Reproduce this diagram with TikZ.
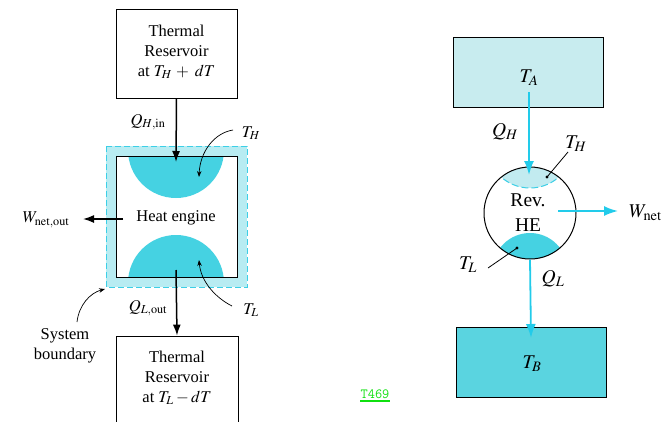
\documentclass[tikz,border=0pt]{standalone}
\usepackage{mathptmx}
\usepackage{fontspec}
\setmainfont{Liberation Serif}
\usetikzlibrary{arrows.meta}
\definecolor{bandcyan}{HTML}{B8ECF2}
\definecolor{diskcyan}{HTML}{45D2E2}
\definecolor{lightbox}{HTML}{C8ECEF}
\definecolor{lightcap}{HTML}{C2EBF0}
\definecolor{darkbox}{HTML}{5AD4E0}
\definecolor{arrowcyan}{HTML}{22CBEA}
\definecolor{dashcyan}{HTML}{3CCFE6}
\definecolor{linkgreen}{HTML}{10E010}
\tikzset{
  lefttext/.style={font=\fontsize{16.5}{20}\selectfont, align=center, inner sep=0pt},
  righttext/.style={font=\fontsize{19.5}{25}\selectfont, align=center, inner sep=0pt},
  resbox/.style={draw, line width=0.9pt, inner sep=0pt},
  blackarrow/.style={line width=1.5pt, -{Latex[length=11pt,width=8pt]}},
  cyanarrow/.style={arrowcyan, line width=1.8pt, -{Latex[length=14pt,width=10pt]}},
  thinarrow/.style={line width=0.7pt, -{Stealth[length=6pt,width=4.5pt]}},
  pointer/.style={line width=0.8pt},
}
\begin{document}
\begin{tikzpicture}[x=1pt,y=-1pt]
\useasboundingbox (0,0) rectangle (666,421);
\clip (0,0) rectangle (666,421);
% ---------------- left diagram ----------------
\node[resbox, minimum width=121pt, minimum height=89pt] (hot) at (176.5,53.5) {};
\node[lefttext] (hottxt) at (176.5,52) {Thermal\\Reservoir\\at $T_H\,+\,\,dT$};
% system boundary band
\fill[bandcyan] (106,146) rectangle (247,287);
\draw[dashcyan, line width=0.8pt, dash pattern=on 6pt off 3pt] (106,146) rectangle (247,287);
\fill[white] (116,156) rectangle (237,277);
\begin{scope}
  \clip (116,156) rectangle (237,277);
  \fill[diskcyan] (176,150) circle (48);
  \fill[diskcyan] (176,283) circle (48);
\end{scope}
\node[resbox, minimum width=121pt, minimum height=121pt] (eng) at (176.5,216.5) {};
\node[lefttext] (engtxt) at (176,218) {Heat engine};
% bottom reservoir
\node[resbox, minimum width=122pt, minimum height=100pt] (cold) at (177,386) {};
\node[lefttext] (coldtxt) at (177,378) {Thermal\\Reservoir\\at $T_L - dT$};
% heat and work arrows
\coordinate (qhtip) at (176,162);
\draw[blackarrow] (hot.south) -- (qhtip);
\node[lefttext] (qhin) at (148,122) {$Q_{H,\mathrm{in}}$};
\coordinate (qlstart) at (176,270);
\draw[blackarrow] (qlstart) -- (cold.north);
\node[lefttext] (qlout) at (148,308) {$Q_{L,\mathrm{out}}$};
\coordinate (wstart) at (123,219);
\coordinate (wtip) at (83,219);
\draw[blackarrow] (wstart) -- (wtip);
\node[lefttext] (wout) at (46,220) {$W_{\mathrm{net,out}}$};
% pointers
\node[lefttext] (thl) at (251,133) {$T_H$};
\coordinate (thdisk) at (199,177);
\draw[thinarrow] (233,130) .. controls (214,133) and (200,152) .. (thdisk);
\node[lefttext] (tll) at (251,310) {$T_L$};
\coordinate (tldisk) at (199,260);
\draw[thinarrow] (232,306) .. controls (216,298) and (201,282) .. (tldisk);
\node[lefttext] (sysb) at (65,346) {System\\boundary};
\coordinate (bcorner) at (105,289);
\draw[thinarrow] (77,322) .. controls (79,305) and (90,293) .. (bcorner);
% ---------------- right diagram ----------------
\node[resbox, fill=lightbox, minimum width=150pt, minimum height=70pt] (A) at (528,72) {};
\node[righttext] (TA) at (529,78) {$T_A$};
\node[resbox, fill=darkbox, minimum width=150pt, minimum height=70pt] (B) at (531,362) {};
\node[righttext] (TB) at (532,364) {$T_B$};
\begin{scope}
  \clip (530,213) circle (46);
  \fill[lightcap] (530,144.5) circle (43.5);
  \draw[dashcyan, line width=1pt, dash pattern=on 7pt off 3pt] (530,144.5) circle (43.5);
  \fill[diskcyan] (530,270.5) circle (37.5);
\end{scope}
\node[draw, circle, line width=1pt, minimum size=92pt, inner sep=0pt] (HE) at (530,213) {};
\node[righttext] (HEtxt) at (528,213) {Rev.\\HE};
\coordinate (qhstart) at (529,92);
\coordinate (qhend) at (529,175);
\draw[cyanarrow] (qhstart) -- (qhend);
\node[righttext] (QH) at (505,132) {$Q_H$};
\coordinate (qlend) at (531,338);
\draw[cyanarrow] (HE.south) -- (qlend);
\node[righttext] (QL) at (553,279) {$Q_L$};
\coordinate (wnstart) at (558,211);
\coordinate (wnend) at (618,211);
\draw[cyanarrow] (wnstart) -- (wnend);
\node[righttext, anchor=west] (Wn) at (629,213) {$W_{\mathrm{net}}$};
% right pointers
\node[righttext] (TH2) at (576,144) {$T_H$};
\coordinate (thdot) at (547,177);
\fill (thdot) circle (1.6);
\draw[pointer] (568,152) -- (thdot);
\node[righttext] (TL2) at (468,265) {$T_L$};
\coordinate (tldot) at (517,248);
\fill (tldot) circle (1.6);
\draw[pointer] (488,268) -- (tldot);
% link label
\node[font=\ttfamily\fontsize{14}{16}\selectfont, text=linkgreen, inner sep=0pt] (link) at (375,394) {T469};
\draw[linkgreen, line width=1.8pt] ([yshift=-2pt]link.south west) -- ([yshift=-2pt]link.south east);
\end{tikzpicture}
\end{document}
